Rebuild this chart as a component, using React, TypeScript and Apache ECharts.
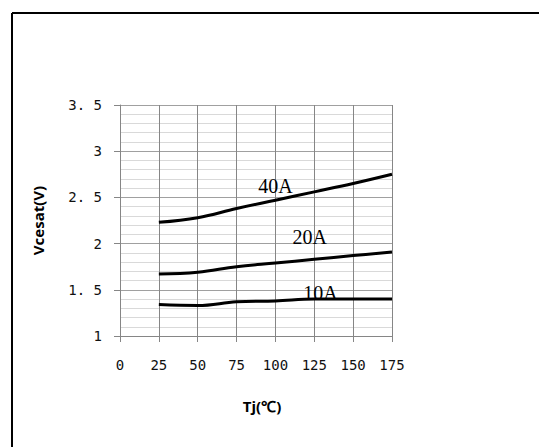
import React, { useEffect, useRef } from "react";
import * as echarts from "echarts";

const temps = [25, 50, 75, 100, 125, 150, 175];
const v10 = [1.34, 1.33, 1.37, 1.38, 1.4, 1.4, 1.4];
const v20 = [1.67, 1.69, 1.75, 1.79, 1.83, 1.87, 1.91];
const v40 = [2.23, 2.28, 2.38, 2.47, 2.56, 2.65, 2.75];
const seriesNames = ["10A", "20A", "40A"];
const labelCoords: [number, number][] = [
  [129, 1.47],
  [122, 2.07],
  [100, 2.62],
];
const yTickLabels: Record<string, string> = {
  "1": "1",
  "1.5": "1. 5",
  "2": "2",
  "2.5": "2. 5",
  "3": "3",
  "3.5": "3. 5",
};

export default function App() {
  const ref = useRef<HTMLDivElement>(null);
  useEffect(() => {
    if (!ref.current) return;
    const chart = echarts.init(ref.current, null, { renderer: "svg" });
    const all = [v10, v20, v40];
    const tickFont = "'DejaVu Sans Mono', monospace";
    chart.setOption({
      animation: false,
      backgroundColor: "#ffffff",
      grid: { left: 120, right: 147, top: 105, bottom: 111 },
      xAxis: {
        type: "value",
        min: 0,
        max: 175,
        interval: 25,
        name: "Tj(℃)",
        nameLocation: "middle",
        nameGap: 62,
        nameTextStyle: {
          fontFamily: "'Open Sans', sans-serif",
          fontWeight: "bold",
          fontSize: 15,
          color: "#000",
          padding: [0, 0, 0, 12],
        },
        axisLine: { show: true, lineStyle: { color: "#868686", width: 1 } },
        axisTick: { show: true, length: 6, lineStyle: { color: "#868686" } },
        axisLabel: {
          margin: 22,
          fontFamily: tickFont,
          fontSize: 14,
          color: "#111",
        },
        splitLine: { show: true, lineStyle: { color: "#868686", width: 1 } },
      },
      yAxis: {
        type: "value",
        min: 1,
        max: 3.5,
        interval: 0.5,
        name: "Vcesat(V)",
        nameLocation: "middle",
        nameRotate: 90,
        nameGap: 75,
        nameTextStyle: {
          fontFamily: "'Open Sans', sans-serif",
          fontWeight: "bold",
          fontSize: 15,
          color: "#000",
        },
        axisLine: { show: true, lineStyle: { color: "#868686", width: 1 } },
        axisTick: { show: true, length: 6, lineStyle: { color: "#868686" } },
        axisLabel: {
          margin: 18,
          fontFamily: tickFont,
          fontSize: 14,
          color: "#111",
          formatter: (v: number) => yTickLabels[String(v)] ?? String(v),
        },
        splitLine: { show: true, lineStyle: { color: "#a0a0a0", width: 1 } },
        minorTick: { show: false, splitNumber: 5 },
        minorSplitLine: { show: true, lineStyle: { color: "#d9d9d9", width: 1 } },
      },
      graphic: [
        {
          type: "line",
          shape: { x1: 12, y1: 13, x2: 539, y2: 13 },
          style: { stroke: "#000", lineWidth: 2 },
          z: 100,
        },
        {
          type: "line",
          shape: { x1: 12, y1: 13, x2: 12, y2: 447 },
          style: { stroke: "#000", lineWidth: 2 },
          z: 100,
        },
      ],
      series: seriesNames.map((name, i) => ({
        name,
        type: "line",
        smooth: 0.4,
        showSymbol: false,
        symbol: "none",
        lineStyle: { color: "#000", width: 3 },
        data: temps.map((t, j) => [t, all[i][j]]),
        markPoint: {
          symbol: "circle",
          symbolSize: 0,
          data: [
            {
              coord: labelCoords[i],
              label: {
                show: true,
                position: "inside",
                formatter: name,
                fontFamily: "'Liberation Serif', serif",
                fontSize: 20,
                color: "#000",
              },
            },
          ],
        },
      })),
    });
    return () => chart.dispose();
  }, []);
  return (
    <div
      ref={ref}
      style={{ position: "fixed", left: 0, top: 0, width: 539, height: 447 }}
    />
  );
}
